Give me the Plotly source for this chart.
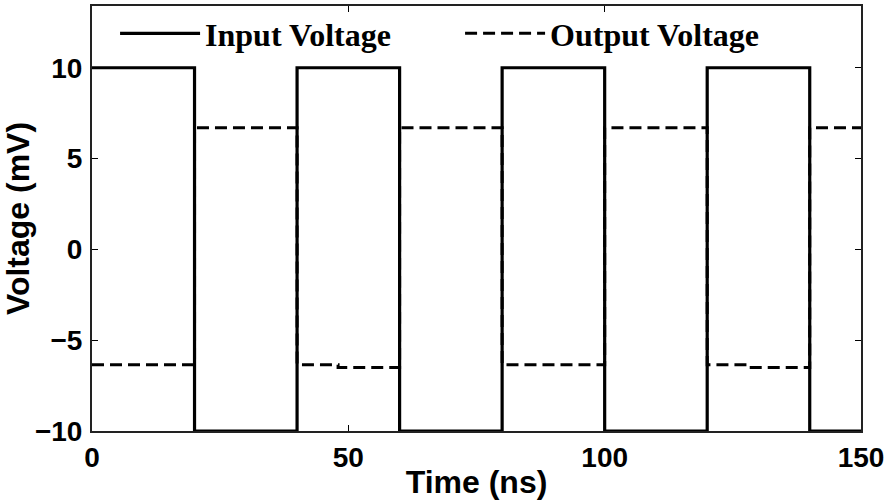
import plotly.graph_objects as go

# Input square wave (step points)
input_time = [0, 20, 20, 40, 40, 60, 60, 80, 80, 100, 100, 120, 120, 140, 140, 150]
input_voltage = [10, 10, -10, -10, 10, 10, -10, -10, 10, 10, -10, -10, 10, 10, -10, -10]

# Output voltage (step points)
output_time = [0, 20, 20, 40, 40, 48, 48, 60, 60, 80, 80, 100, 100, 120, 120, 128, 128, 140, 140, 150]
output_voltage = [-6.35, -6.35, 6.7, 6.7, -6.35, -6.35, -6.5, -6.5, 6.7, 6.7,
                  -6.35, -6.35, 6.7, 6.7, -6.35, -6.35, -6.5, -6.5, 6.7, 6.7]

x_ticks = [0, 50, 100, 150]
y_ticks = [-10, -5, 0, 5, 10]

fig = go.Figure()
fig.add_trace(go.Scatter(x=input_time, y=input_voltage, mode="lines", name="Input Voltage",
                         line=dict(color="black", width=3.2, shape="linear")))
fig.add_trace(go.Scatter(x=output_time, y=output_voltage, mode="lines", name="Output Voltage",
                         line=dict(color="black", width=3, dash="12px,6px")))

tickfont = dict(family="Liberation Sans", size=28, color="black", weight="bold")
titlefont = dict(family="Liberation Sans", size=32, color="black", weight="bold")

fig.update_layout(
    width=893, height=500,
    margin=dict(l=92, r=32, t=6, b=69),
    plot_bgcolor="white", paper_bgcolor="white",
    showlegend=True,
    legend=dict(orientation="h", x=0.03, y=1.0, xanchor="left", yanchor="top",
                font=dict(family="Liberation Serif", size=32, color="black", weight="bold"),
                bgcolor="rgba(0,0,0,0)", itemwidth=80, entrywidth=250, entrywidthmode="pixels",
                tracegroupgap=0),
    xaxis=dict(range=[0, 150], tickvals=x_ticks, ticks="inside", ticklen=6, tickwidth=1.2,
               tickcolor="black", showline=True, linecolor="#222", linewidth=2, mirror="ticks",
               showgrid=False, zeroline=False, tickfont=tickfont, ticklabelstandoff=0,
               automargin=False,
               title=dict(text="Time (ns)", font=titlefont, standoff=0)),
    yaxis=dict(range=[-10, 13.4], tickvals=y_ticks, ticks="inside", ticklen=6, tickwidth=1.2,
               tickcolor="black", showline=True, linecolor="#222", linewidth=2, mirror="ticks",
               showgrid=False, zeroline=False, tickfont=tickfont, ticklabelstandoff=2,
               automargin=False,
               title=dict(text="Voltage (mV)", font=titlefont, standoff=0)),
)

fig.write_html("out.html")
